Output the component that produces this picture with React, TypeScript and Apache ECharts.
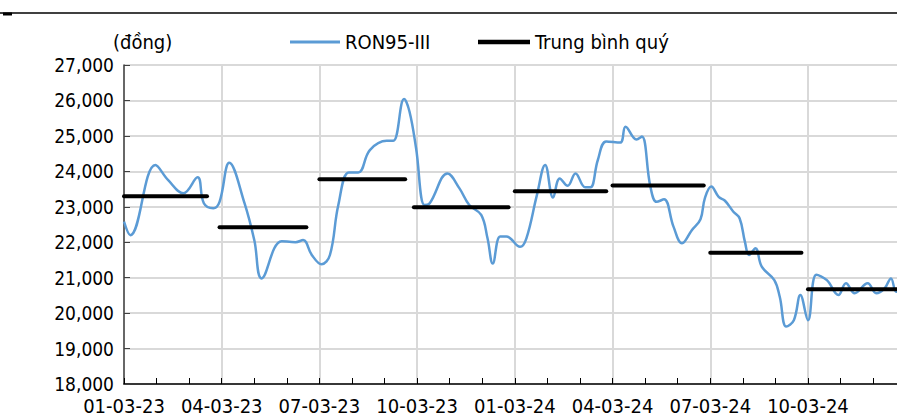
import React, { useEffect, useRef } from "react";
import * as echarts from "echarts";

// RON95-III retail price (đồng / litre)
const priceDates = [
  "2023-01-03", "2023-01-09", "2023-02-02", "2023-02-13", "2023-02-26", "2023-03-11",
  "2023-03-17", "2023-03-26", "2023-04-01", "2023-04-10", "2023-04-24", "2023-05-03",
  "2023-05-10", "2023-05-29", "2023-06-11", "2023-06-18", "2023-06-26", "2023-07-05",
  "2023-07-13", "2023-07-21", "2023-07-31", "2023-08-09", "2023-08-20", "2023-09-05",
  "2023-09-11", "2023-09-21", "2023-09-26", "2023-10-02", "2023-10-10", "2023-10-15",
  "2023-11-01", "2023-11-12", "2023-11-21", "2023-12-02", "2023-12-08", "2023-12-13",
  "2023-12-20", "2023-12-26", "2024-01-08", "2024-01-14", "2024-01-24", "2024-02-01",
  "2024-02-08", "2024-02-14", "2024-02-21", "2024-02-28", "2024-03-08", "2024-03-13",
  "2024-03-20", "2024-03-28", "2024-04-10", "2024-04-15", "2024-04-25", "2024-04-30",
  "2024-05-08", "2024-05-14", "2024-05-21", "2024-05-30", "2024-06-07", "2024-06-16",
  "2024-06-24", "2024-06-28", "2024-07-04", "2024-07-11", "2024-07-17", "2024-07-25",
  "2024-07-31", "2024-08-05", "2024-08-09", "2024-08-15", "2024-08-21", "2024-09-02",
  "2024-09-07", "2024-09-13", "2024-09-20", "2024-09-26", "2024-10-03", "2024-10-11",
  "2024-10-21", "2024-11-01", "2024-11-08", "2024-11-16", "2024-11-28", "2024-12-06",
  "2024-12-14", "2024-12-20", "2024-12-25", "2024-12-31",
];
const priceValues = [
  22580, 22200, 24180, 23750, 23380, 23830,
  23100, 22960, 23140, 24240, 23100, 22060,
  20980, 22030, 22000, 22060, 21640, 21380,
  21640, 23050, 23970, 23970, 24600, 24860,
  24860, 26040, 25680, 24650, 23050, 23100,
  23940, 23520, 23050, 22770, 22110, 21400,
  22160, 22160, 21870, 22110, 23330, 24180,
  23260, 23800, 23590, 23940, 23550, 23550,
  24320, 24840, 24810, 25260, 24900, 24980,
  23570, 23140, 23210, 22440, 21970, 22340,
  22650, 23240, 23570, 23280, 23170, 22860,
  22670, 22010, 21640, 21830, 21310, 20930,
  20460, 19620, 19800, 20510, 19800, 21080,
  20930, 20510, 20840, 20560, 20840, 20560,
  20700, 20980, 20600, 20800,
];

// Quarterly average
const quarterStarts = [
  "2023-01-03", "2023-04-01", "2023-07-03", "2023-09-30",
  "2024-01-03", "2024-04-03", "2024-07-03", "2024-10-03",
];
const quarterEnds = [
  "2023-03-20", "2023-06-21", "2023-09-22", "2023-12-28",
  "2024-03-28", "2024-06-27", "2024-09-27", "2024-12-31",
];
const quarterAverages = [23300, 22420, 23780, 22990, 23440, 23600, 21700, 20670];

const yMin = 18000;
const yMax = 27000;
const yStep = 1000;
const xTickMonths = 3; // a label every quarter

function monthIndex(s: string): number {
  const [y, m, d] = s.split("-").map(Number);
  const dim = new Date(y, m, 0).getDate();
  return (y - 2023) * 12 + (m - 1) + (d - 3) / dim;
}

function fmtThousands(v: number): string {
  const s = String(Math.round(v));
  return s.replace(/\B(?=(\d{3})+(?!\d))/g, ",");
}

function fmtDate(m: number): string {
  if (m >= 24) return "";
  const mo = (Math.round(m) % 12) + 1;
  const yr = 23 + Math.floor(Math.round(m) / 12);
  return `${String(mo).padStart(2, "0")}-03-${yr}`;
}

const FONT = "'DejaVu Sans Condensed', 'DejaVu Sans', sans-serif";
const NARROW = "'Liberation Sans Narrow', 'DejaVu Sans Condensed', sans-serif";
const BLUE = "#5B9BD5";

export default function App() {
  const ref = useRef<HTMLDivElement>(null);

  useEffect(() => {
    if (!ref.current) return;
    const chart = echarts.init(ref.current, null, { renderer: "svg" });

    const priceData = priceDates.map((d, i) => [monthIndex(d), priceValues[i]]);
    const avgSeries = quarterAverages.map((v, i) => ({
      name: "Trung bình quý",
      type: "line",
      data: [
        [monthIndex(quarterStarts[i]), v],
        [monthIndex(quarterEnds[i]), v],
      ],
      symbol: "none",
      lineStyle: { color: "#000", width: 4, cap: "round" },
      itemStyle: { color: "#000" },
      z: 3,
      silent: true,
    }));

    const legendText = { fontFamily: FONT, fontSize: 20, color: "#000" };

    chart.setOption({
      animation: false,
      backgroundColor: "#fff",
      textStyle: { fontFamily: FONT, color: "#000" },
      grid: {
        left: 124,
        top: 65,
        width: 24 * 32.57,
        height: 319,
        outerBoundsMode: "none",
        containLabel: false,
      },
      legend: [
        {
          left: 290,
          top: 32,
          itemWidth: 50,
          itemHeight: 3,
          icon: "rect",
          data: ["RON95-III"],
          textStyle: legendText,
          padding: 0,
        },
        {
          left: 478,
          top: 32,
          itemWidth: 52,
          itemHeight: 4.5,
          icon: "rect",
          data: ["Trung bình quý"],
          textStyle: legendText,
          padding: 0,
        },
      ],
      xAxis: {
        type: "value",
        min: 0,
        max: 24,
        interval: xTickMonths,
        axisLine: { show: true, lineStyle: { color: "#000", width: 1.5 } },
        axisTick: { show: true, inside: true, length: 6, lineStyle: { color: "#000", width: 1 } },
        minorTick: { show: true, splitNumber: 3, length: 6, lineStyle: { color: "#000", width: 1 } },
        splitLine: { show: true, lineStyle: { color: "#d9d9d9", width: 2 } },
        axisLabel: {
          formatter: (v: number) => fmtDate(v),
          fontSize: 20,
          color: "#000",
          margin: 12,
          showMaxLabel: false,
          fontFamily: FONT,
        },
      },
      yAxis: {
        type: "value",
        min: yMin,
        max: yMax,
        interval: yStep,
        axisLine: { show: true, lineStyle: { color: "#404040", width: 1.5 } },
        axisTick: { show: true, inside: true, length: 6, lineStyle: { color: "#404040", width: 1 } },
        splitLine: { show: true, lineStyle: { color: "#d9d9d9", width: 2 } },
        axisLabel: {
          formatter: (v: number) => fmtThousands(v),
          fontSize: 19,
          color: "#000",
          margin: 10,
          fontFamily: NARROW,
        },
      },
      graphic: [
        {
          type: "line",
          shape: { x1: 0, y1: 13, x2: 897, y2: 13 },
          style: { stroke: "#000", lineWidth: 1.5 },
        },
        {
          type: "line",
          shape: { x1: 3, y1: 14, x2: 12, y2: 14 },
          style: { stroke: "#000", lineWidth: 3 },
        },
        {
          type: "text",
          left: 113,
          top: 32,
          style: { text: "(đồng)", font: `20px ${FONT}`, fill: "#000" },
        },
      ],
      series: [
        {
          name: "RON95-III",
          type: "line",
          data: priceData,
          smooth: 0.4,
          symbol: "none",
          lineStyle: { color: BLUE, width: 2.5 },
          itemStyle: { color: BLUE },
          z: 2,
          silent: true,
        },
        ...avgSeries,
      ],
    });

    return () => chart.dispose();
  }, []);

  return (
    <div
      ref={ref}
      style={{ position: "absolute", left: 0, top: 0, width: 897, height: 420, background: "#fff" }}
    />
  );
}
